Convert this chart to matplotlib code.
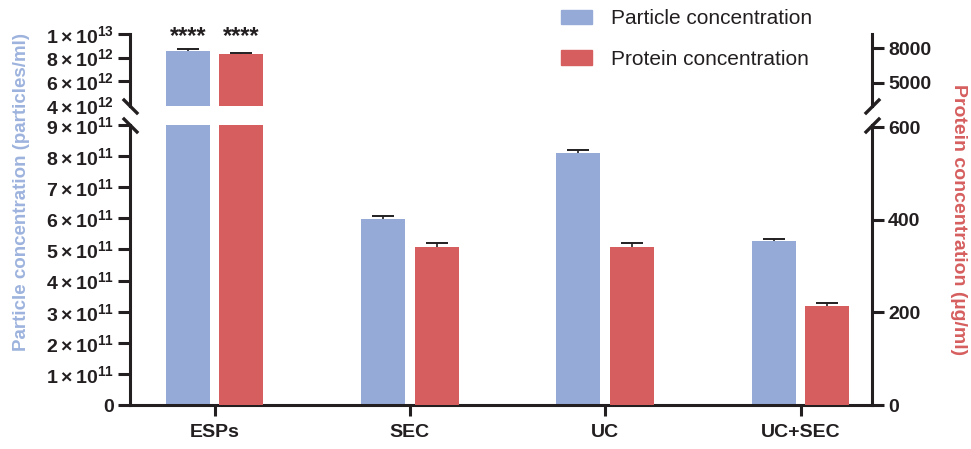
import numpy as np
import matplotlib
matplotlib.use('Agg')
import matplotlib.pyplot as plt
from matplotlib.patches import Patch

# data
groups = ['ESPs', 'SEC', 'UC', 'UC+SEC']
particles = [8.59e12, 5.97e11, 8.09e11, 5.27e11]
particles_err = [1.2e11, 1.0e10, 1.1e10, 5e9]
protein = [7480, 342, 342, 214]
protein_err = [110, 7, 7, 7]
stars = ['****', '****']

blue = '#95aad6'
red = '#d65e5e'
ink = '#231f20'

plt.rcParams['font.family'] = ['Liberation Sans', 'DejaVu Sans']
plt.rcParams['mathtext.fontset'] = 'custom'
plt.rcParams['mathtext.rm'] = 'Liberation Sans:bold'
plt.rcParams['mathtext.it'] = 'Liberation Sans:bold'
plt.rcParams['mathtext.bf'] = 'Liberation Sans:bold'


def style(ax, left=True, right=False, bottom=False):
    for s in ['top', 'bottom', 'left', 'right']:
        ax.spines[s].set_visible(False)
    ax.spines['left'].set_visible(left)
    ax.spines['right'].set_visible(right)
    ax.spines['bottom'].set_visible(bottom)
    for s in ax.spines.values():
        s.set_linewidth(2.2)
        s.set_color(ink)
    ax.tick_params(axis='y', length=8.5, width=2.2, colors=ink, labelsize=14, pad=3)
    for lab in ax.get_yticklabels():
        lab.set_fontweight('bold')


def upper_errorbar(ax, xs, ys, err):
    # one-sided error bars, cap on top only
    lines = ax.errorbar(xs, ys, yerr=[np.zeros(len(ys)), err], fmt='none', ecolor=ink,
                        capsize=8, elinewidth=1.2, capthick=1.4)
    lines[1][0].set_visible(False)


def main():
    fig = plt.figure(figsize=(9.71, 4.49), dpi=100)
    L, W = 130 / 971, 742 / 971
    ax_lo = fig.add_axes([L, 1 - 405 / 449, W, 280 / 449])
    ax_hi = fig.add_axes([L, 1 - 106 / 449, W, 72 / 449])
    ax_lo2 = ax_lo.twinx()
    ax_hi2 = ax_hi.twinx()

    x = np.arange(len(groups))
    w = 0.225
    off = 0.137

    for ax in (ax_lo, ax_hi):
        ax.bar(x - off, particles, w, color=blue)
        upper_errorbar(ax, x - off, particles, particles_err)
    for ax in (ax_lo2, ax_hi2):
        ax.bar(x + off, protein, w, color=red)
        upper_errorbar(ax, x + off, protein, protein_err)

    for ax in (ax_lo, ax_hi, ax_lo2, ax_hi2):
        ax.set_xlim(-0.4327, 3.366)

    ax_lo.set_ylim(0, 9e11)
    ax_hi.set_ylim(3.9e12, 1e13)
    ax_lo2.set_ylim(0, 605)
    ax_hi2.set_ylim(2970, 9250)

    lo_ticks = np.arange(10) * 1e11
    ax_lo.set_yticks(lo_ticks)
    ax_lo.set_yticklabels(['0'] + [r'$%d\times10^{11}$' % i for i in range(1, 10)])
    ax_hi.set_yticks([4e12, 6e12, 8e12, 1e13])
    ax_hi.set_yticklabels([r'$4\times10^{12}$', r'$6\times10^{12}$',
                           r'$8\times10^{12}$', r'$1\times10^{13}$'])
    ax_lo2.set_yticks([0, 200, 400, 600])
    ax_hi2.set_yticks([5000, 8000])

    style(ax_lo, left=True, bottom=True)
    style(ax_hi, left=True)
    style(ax_lo2, left=False, right=True)
    style(ax_hi2, left=False, right=True)
    ax_hi.yaxis.get_major_ticks()[0].tick1line.set_visible(False)

    ax_lo.set_xticks(x)
    ax_lo.set_xticklabels(groups, fontweight='bold', fontsize=14, color=ink)
    ax_lo.tick_params(axis='x', length=8, width=2.2, colors=ink, pad=6)
    for ax in (ax_hi, ax_hi2, ax_lo2):
        ax.tick_params(axis='x', bottom=False, labelbottom=False)

    # axis break marks
    mk = dict(markersize=11, markeredgewidth=2.4, color=ink, clip_on=False, linestyle='none')
    back = [(-1, 1), (1, -1)]
    fwd = [(-1, -1), (1, 1)]
    ax_hi.plot([0], [0], transform=ax_hi.transAxes, marker=back, **mk)
    ax_lo.plot([0], [1], transform=ax_lo.transAxes, marker=back, **mk)
    ax_hi.plot([1], [0], transform=ax_hi.transAxes, marker=fwd, **mk)
    ax_lo.plot([1], [1], transform=ax_lo.transAxes, marker=fwd, **mk)

    # significance stars
    for i, s in enumerate(stars):
        ax_hi.text(0 + (2 * i - 1) * off, 9.75e12, s, ha='center', va='center',
                   fontsize=17, fontweight='bold', color=ink, clip_on=False)

    fig.text(22 / 971, 1 - 192 / 449, 'Particle concentration (particles/ml)',
             rotation=90, ha='center', va='center', fontsize=13.5,
             fontweight='bold', color='#9db3dd')
    fig.text(958 / 971, 1 - 220 / 449, 'Protein concentration (\u00b5g/ml)',
             rotation=270, ha='center', va='center', fontsize=14,
             fontweight='bold', color=red)

    handles = [Patch(color=blue, label='Particle concentration'),
               Patch(color=red, label='Protein concentration')]
    fig.legend(handles=handles, loc='upper left', bbox_to_anchor=(561 / 971, 1 - 9 / 449),
               frameon=False, fontsize=15, handlelength=1.5, handleheight=0.67,
               handletextpad=0.9, labelspacing=1.05, borderpad=0, borderaxespad=0,
               labelcolor=ink)

    fig.savefig('out.png', dpi=100)


if __name__ == '__main__':
    main()
